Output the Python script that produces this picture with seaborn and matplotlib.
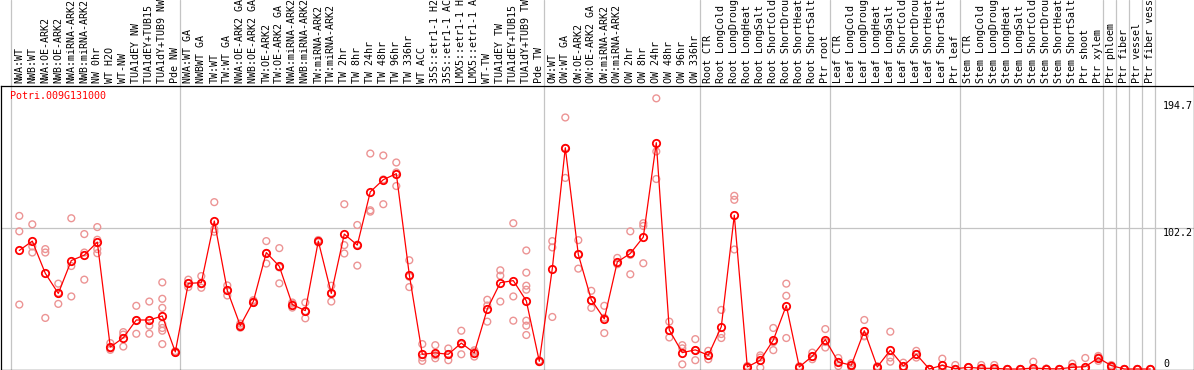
import numpy as np
import pandas as pd
import matplotlib
matplotlib.use("Agg")
import matplotlib.pyplot as plt
import seaborn as sns
from matplotlib.transforms import blended_transform_factory

# ---------------- data ----------------
gene = "Potri.009G131000"

labels = [
    "NWA:WT", "NWB:WT", "NWA:OE-ARK2", "NWB:OE-ARK2", "NWA:miRNA-ARK2", "NWB:miRNA-ARK2",
    "NW 0hr", "WT H2O", "WT-NW", "TUA1dEY NW", "TUA1dEY+TUB15 NW", "TUA1dY+TUB9 NW", "Pde NW",
    "NWA:WT GA", "NWBWT GA", "TW:WT", "TW:WT GA", "NWA:OE-ARK2 GA", "NWB:OE-ARK2 GA",
    "TW:OE-ARK2", "TW:OE-ARK2 GA", "NWA:miRNA-ARK2 GA", "NWB:miRNA-ARK2 GA",
    "TW:miRNA-ARK2", "TW:miRNA-ARK2 GA", "TW 2hr", "TW 8hr", "TW 24hr", "TW 48hr", "TW 96hr",
    "TW 336hr", "WT ACC", "35S::etr1-1 H2O", "35S::etr1-1 ACC", "LMX5::etr1-1 H2O",
    "LMX5::etr1-1 ACC", "WT-TW", "TUA1dEY TW", "TUA1dEY+TUB15 TW", "TUA1dY+TUB9 TW", "Pde TW",
    "OW:WT", "OW:WT GA", "OW:OE-ARK2", "OW:OE-ARK2 GA", "OW:miRNA-ARK2", "OW:miRNA-ARK2 GA",
    "OW 2hr", "OW 8hr", "OW 24hr", "OW 48hr", "OW 96hr", "OW 336hr",
    "Root CTR", "Root LongCold", "Root LongDrought", "Root LongHeat", "Root LongSalt",
    "Root ShortCold", "Root ShortDrought", "Root ShortHeat", "Root ShortSalt", "Ptr root",
    "Leaf CTR", "Leaf LongCold", "Leaf LongDrought", "Leaf LongHeat", "Leaf LongSalt",
    "Leaf ShortCold", "Leaf ShortDrought", "Leaf ShortHeat", "Leaf ShortSalt", "Ptr leaf",
    "Stem CTR", "Stem LongCold", "Stem LongDrought", "Stem LongHeat", "Stem LongSalt",
    "Stem ShortCold", "Stem ShortDrought", "Stem ShortHeat", "Stem ShortSalt",
    "Ptr shoot", "Ptr xylem", "Ptr phloem", "Ptr fiber", "Ptr vessel", "Ptr fiber vessel",
]

group_sizes = [13, 28, 12, 10, 10, 11, 1, 1, 1, 1]

means = [
    86.1, 92.9, 69.5, 54.9, 78.8, 82.7, 92.2, 15.9, 22.7, 35.6,
    35.6, 38.5, 12.4, 62.2, 62.7, 107.5, 57.1, 31.5, 49.0, 84.6,
    74.6, 46.8, 42.4, 92.9, 54.9, 98.0, 90.0, 128.7, 137.5, 141.9,
    68.5, 10.7, 11.7, 10.7, 18.8, 11.7, 43.6, 62.7, 64.2, 49.5,
    5.6, 72.9, 160.7, 83.2, 50.3, 36.4, 77.8, 83.9, 95.8, 164.4,
    28.3, 11.9, 13.9, 10.0, 30.7, 111.7, 1.5, 6.4, 21.0, 46.1,
    1.5, 9.3, 21.4, 5.1, 2.7, 27.8, 1.5, 13.7, 2.2, 10.7,
    0.0, 2.7, 0.2, 1.2, 0.5, 0.5, 0.0, 0.0, 0.7, 0.2,
    0.1, 1.2, 1.7, 8.0, 2.5, 0.0, 0.0, 0.0,
]

replicates = [
    [111.2, 100.0, 46.8], [105.1, 84.6, 89.0], [87.1, 84.6, 37.1], [62.0, 47.3, 55.4],
    [109.5, 74.8, 52.7], [98.0, 84.6, 64.9], [103.1, 93.9, 87.1, 84.1], [18.8, 13.9, 15.0],
    [26.8, 16.3, 25.0], [45.9, 25.6, 35.3], [49.0, 31.5, 25.6],
    [62.9, 51.0, 44.4, 32.7, 29.8, 27.8, 18.1], [11.8, 12.4, 13.0], [64.9, 59.5, 62.2],
    [67.5, 59.0, 61.6], [121.2, 99.7, 101.6], [60.7, 53.4, 57.2], [30.0, 31.5, 33.0],
    [48.0, 49.0, 50.0], [92.9, 76.6, 84.3], [87.8, 62.2, 73.8], [48.3, 44.6, 47.5],
    [48.3, 36.8, 42.1], [92.0, 93.0, 93.7], [60.5, 49.0, 55.2], [119.7, 90.0, 83.9],
    [104.6, 75.1, 90.3], [156.5, 114.3, 115.3], [155.1, 119.7, 137.7], [150.0, 132.9, 142.8],
    [79.0, 59.5, 67.0], [18.1, 8.3, 5.9], [17.3, 10.0, 7.8], [14.9, 6.4, 10.8],
    [27.8, 10.7, 17.9], [9.0, 12.5, 13.6], [50.3, 34.4, 46.1], [71.7, 67.8, 49.0],
    [105.9, 52.7, 35.1], [86.1, 70.0, 60.5, 57.6, 35.1, 31.5, 24.7], [5.0, 5.6, 6.2],
    [92.9, 88.3, 37.8], [182.7, 138.8, 160.6], [93.6, 72.9, 83.1], [56.8, 44.4, 49.7],
    [45.9, 26.1, 37.2], [80.7, 76.1, 76.6], [100.0, 68.8, 82.9], [105.9, 103.9, 76.8],
    [196.6, 158.0, 138.0], [34.4, 22.9, 27.6], [17.3, 3.4, 15.0], [21.7, 6.4, 13.6],
    [13.2, 7.1, 9.7], [42.9, 25.4, 22.5], [125.8, 122.9, 86.8], [2.2, 1.5, 0.8],
    [8.3, 1.0, 9.9], [29.8, 13.7, 19.5], [62.0, 53.2, 22.5], [1.0, 1.5, 2.0],
    [11.9, 7.1, 8.9], [29.0, 15.6, 19.6], [2.2, 5.1, 8.0], [4.2, 2.7, 1.2],
    [35.6, 24.1, 23.7], [1.0, 1.5, 2.0], [27.1, 8.3, 5.3], [4.6, 2.0, 0.0],
    [13.2, 8.3, 10.6], [0.0, 0.0, 0.0], [7.5, 0.5, 0.1], [2.9, 0.0, 0.0],
    [1.2, 1.0, 1.4], [2.9, 0.0, 0.0], [2.9, 0.0, 0.0], [0.0, 0.0, 0.0], [0.0, 0.0, 0.0],
    [5.3, 0.0, 0.0], [0.2, 0.2, 0.2], [0.0, 0.0, 0.0], [3.9, 0.0, 0.0], [8.0, 0.0, 0.0],
    [9.5, 5.9, 8.5], [2.9, 1.5, 0.5], [0.0, 0.0, 0.0], [0.0, 0.0, 0.0], [0.0, 0.0, 0.0],
]

axis_values = [194.7, 102.2, 0]

# ---------------- frames ----------------
idx = np.arange(len(labels))
df_mean = pd.DataFrame({"idx": idx, "value": means})
df_rep = pd.DataFrame(
    [(i, v) for i, reps in enumerate(replicates) for v in reps], columns=["idx", "value"]
)

# ---------------- figure ----------------
sns.set_theme(style="white")
plt.rcParams["font.family"] = ["DejaVu Sans Mono", "DejaVu Sans"]

W, H = 1194, 370
fig = plt.figure(figsize=(W / 100, H / 100), dpi=100)
fig.patch.set_facecolor("white")
ax = fig.add_axes([0.5 / W, 0.5 / H, 1193 / W, 284 / H])
ax.set_facecolor("white")

x0, dx = 19.3, 13.0
ax.set_xlim((0.5 - x0) / dx, (1193.5 - x0) / dx)
scale = 1.3767
ax.set_ylim(-0.5 / scale, (369 - 85.5) / scale)

grid_c = "#c4c4c4"
top_frac = 1 + 85.5 / 284
# group separators
bounds = np.concatenate([[-1], np.cumsum(group_sizes) - 1]) + 0.38
for b in bounds:
    ax.axvline(b, ymin=0, ymax=top_frac, color=grid_c, lw=0.9, clip_on=False, zorder=0)
ax.axhline(axis_values[1], color=grid_c, lw=0.9, zorder=0)

# replicates
sns.scatterplot(data=df_rep, x="idx", y="value", ax=ax, marker="o", s=24,
                color="#ec9494", edgecolor="#ec9494", facecolors="none",
                linewidth=1.0, zorder=2, legend=False)
# means
sns.lineplot(data=df_mean, x="idx", y="value", ax=ax, color="#ff0000", lw=0.9,
             marker="o", markersize=5.3, markerfacecolor="none",
             markeredgecolor="#ff0000", markeredgewidth=1.3, zorder=3,
             estimator=None, legend=False)

for sp in ax.spines.values():
    sp.set_color("black")
    sp.set_linewidth(0.9)
ax.set_xticks([])
ax.set_yticks([])
ax.set_xlabel("")
ax.set_ylabel("")

# column labels
tr = blended_transform_factory(ax.transData, ax.transAxes)
for i, lab in enumerate(labels):
    ax.text(i, 1 + 2.5 / 284, lab, transform=tr, rotation=90, ha="center", va="bottom",
            fontsize=7.2, color="black", clip_on=False)

# axis value labels
tr2 = blended_transform_factory(ax.transAxes, ax.transData)
xl = (1163 - 0.5) / 1193
for v in axis_values:
    ax.text(xl, v, f"{v:g}" if v != 0 else "0", transform=tr2, ha="left",
            va="bottom" if v == 0 else "top", fontsize=7.2, color="black")

fig.text(10 / W, 1 - 96 / H, gene, color="#ff0000", fontsize=7.2, ha="left", va="center")

fig.savefig("out.png", dpi=100)
